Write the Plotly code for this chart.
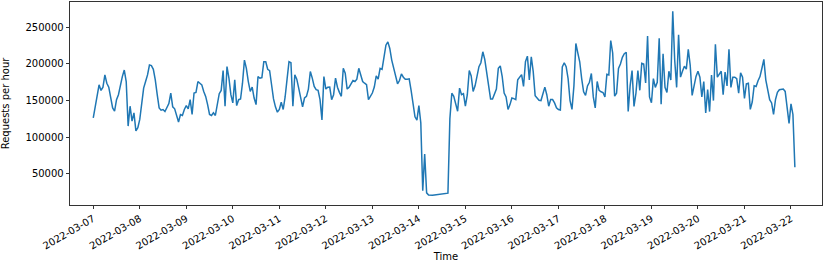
import pandas as pd
import plotly.graph_objects as go

start_time = "2022-03-07 00:00"
requests_per_hour = [
    # 2022-03-07
    126500, 143000, 153500, 171500, 163800, 168300, 185000, 173700, 168300, 153500, 140000, 135500,
    151200, 158000, 171500, 182700, 191700, 176000, 115200, 142300, 122000, 133200, 108500, 113000,
    # 2022-03-08
    124200, 142300, 167000, 176000, 185000, 198500, 197700, 192700, 178300, 158000, 140000, 136900,
    137800, 135000, 140000, 145900, 160300, 141400, 138700, 131000, 120700, 131000, 129700, 137800,
    # 2022-03-09
    143100, 138700, 151200, 131000, 160300, 161100, 176000, 173700, 171500, 162500, 155700, 144500,
    131000, 129700, 133300, 129700, 142300, 159400, 163900, 190900, 142300, 196300, 180600, 158000,
    # 2022-03-10
    146800, 178300, 143100, 151200, 152100, 173700, 205300, 194000, 176000, 162500, 168300, 153500,
    144500, 182700, 180500, 181400, 203000, 203000, 192700, 190900, 171600, 152200, 141400, 134200,
    # 2022-03-11
    137800, 147700, 137800, 154900, 179200, 203000, 201700, 142300, 185100, 179200, 167100, 153500,
    141400, 153500, 155800, 165700, 189600, 180600, 169300, 164800, 163900, 151200, 123400, 182800,
    # 2022-03-12
    165700, 168300, 168400, 151200, 158000, 180600, 168300, 161200, 155800, 194100, 187300, 165700,
    168300, 172900, 177400, 176000, 179200, 194100, 185100, 176000, 173700, 171600, 151200, 155800,
    # 2022-03-13
    160300, 168400, 183700, 179200, 194000, 192700, 212100, 225600, 230100, 221100, 205300, 194100,
    181900, 172900, 177400, 186400, 181900, 179200, 179200, 179700, 163900, 143200, 127900, 123400,
    # 2022-03-14
    143200, 119800, 27000, 77000, 24000, 21000, 20500, 20800, 21100, 21400, 21700, 22000,
    22300, 22600, 22900, 23500, 125000, 160000, 155800, 144500, 135500, 167000, 158000, 159400,
    # 2022-03-15
    142300, 158000, 190900, 183700, 162500, 170200, 182800, 196300, 201700, 216600, 206200, 188200,
    167000, 152200, 152200, 159400, 165700, 194100, 197200, 182800, 160300, 154900, 137800, 144500,
    # 2022-03-16
    153500, 152700, 151300, 178300, 182800, 185500, 169300, 203000, 210700, 178300, 209800, 189600,
    156700, 153600, 150400, 150000, 160300, 168400, 158000, 142300, 151300, 151300, 146800, 140000,
    # 2022-03-17
    137800, 137000, 196000, 201700, 196300, 180000, 150000, 138000, 170000, 228000, 215000, 203000,
    180000, 162000, 157000, 170000, 175000, 187000, 155000, 140000, 176000, 164000, 162000, 161000,
    # 2022-03-18
    155000, 186000, 185000, 232000, 215000, 156000, 160000, 194000, 200000, 209000, 214000, 216000,
    135000, 170000, 191000, 142000, 160000, 191000, 164000, 201000, 200000, 174000, 238000, 155000,
    # 2022-03-19
    147000, 180000, 168000, 175000, 235000, 145000, 214000, 168000, 161000, 190000, 178000, 272000,
    205000, 168000, 240000, 182000, 190000, 197000, 193000, 220000, 198000, 157000, 170000, 183000,
    # 2022-03-20
    190000, 182000, 155000, 176000, 133000, 165000, 135000, 185000, 150000, 227000, 182000, 186000,
    190000, 158000, 189000, 170000, 220000, 168000, 182000, 182000, 180000, 160000, 188000, 182000,
    # 2022-03-21
    153000, 173000, 173800, 138000, 148000, 170200, 169300, 177000, 182800, 194100, 206200, 178300,
    162500, 151300, 146800, 131000, 151300, 161200, 164800, 165700, 165700, 162500, 141400, 118900,
    # 2022-03-22
    145400, 131000, 59000,
]

day_ticks = pd.date_range("2022-03-07", "2022-03-22", freq="D")
y_ticks = [50000, 100000, 150000, 200000, 250000]

times = pd.date_range(start_time, periods=len(requests_per_hour), freq="h")

fig = go.Figure()
fig.add_trace(go.Scatter(
    x=times, y=requests_per_hour, mode="lines",
    line=dict(color="#1f77b4", width=1.5),
    showlegend=False, hoverinfo="skip",
))

t0 = pd.Timestamp(start_time)
x_range = [t0 - pd.Timedelta(hours=12), t0 + pd.Timedelta(hours=376)]

axis_common = dict(
    showline=True, linecolor="black", linewidth=0.8, mirror=True,
    showgrid=False, zeroline=False, automargin=False,
    ticks="outside", ticklen=3.5, tickwidth=0.8, tickcolor="black",
    tickfont=dict(family="DejaVu Sans", size=10, color="black"),
)

fig.update_xaxes(
    type="date", range=x_range,
    tickvals=list(day_ticks), ticktext=[d.strftime("%Y-%m-%d") for d in day_ticks],
    tickangle=-30,
    title=dict(text="Time", font=dict(family="DejaVu Sans", size=10, color="black"), standoff=5),
    **axis_common,
)
fig.update_yaxes(
    range=[7400, 284600],
    tickvals=y_ticks, ticktext=[str(v) for v in y_ticks],
    title=dict(text="Requests per hour", font=dict(family="DejaVu Sans", size=10, color="black"), standoff=13),
    **axis_common,
)

fig.update_layout(
    width=831, height=262,
    margin=dict(l=70, r=9, t=2, b=57, autoexpand=False),
    plot_bgcolor="white", paper_bgcolor="white",
    font=dict(family="DejaVu Sans", size=10, color="black"),
    hovermode=False,
)

fig.write_html(
    "out.html",
    config={"displayModeBar": False, "staticPlot": True},
    post_script="document.body.style.margin='0px';document.body.style.overflow='hidden';",
)
